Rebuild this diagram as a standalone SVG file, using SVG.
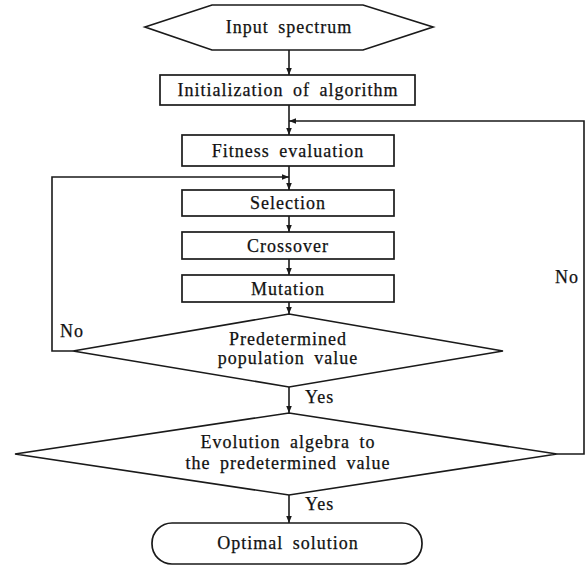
<svg xmlns="http://www.w3.org/2000/svg" width="587" height="569" viewBox="0 0 587 569" font-family="'Liberation Serif', serif">
<defs>
<style>
.s{fill:#fff;stroke:#1a1a1a;stroke-width:1.7}
.c{fill:none;stroke:#1a1a1a;stroke-width:1.6}
text{font-family:'Liberation Serif',serif;font-size:18px;fill:#111;stroke:#111;stroke-width:0.25;letter-spacing:1px;word-spacing:4px}
.m{text-anchor:middle}
</style>
<marker id="a" viewBox="0 0 10 10" refX="10" refY="5" markerWidth="7" markerHeight="7" markerUnits="userSpaceOnUse" orient="auto">
<path d="M0,1 L10,5 L0,9 Z" fill="#1a1a1a"/>
</marker>
</defs>
<rect width="587" height="569" fill="#fff"/>
<g id="connectors">
<line class="c" x1="289" y1="50" x2="289" y2="75" marker-end="url(#a)"/>
<line class="c" x1="289" y1="105" x2="289" y2="135" marker-end="url(#a)"/>
<line class="c" x1="289" y1="166" x2="289" y2="190" marker-end="url(#a)"/>
<line class="c" x1="289" y1="216" x2="289" y2="232" marker-end="url(#a)"/>
<line class="c" x1="289" y1="259" x2="289" y2="275" marker-end="url(#a)"/>
<line class="c" x1="289" y1="302" x2="289" y2="314" marker-end="url(#a)"/>
<line class="c" x1="289" y1="387" x2="289" y2="413" marker-end="url(#a)"/>
<line class="c" x1="289" y1="495" x2="289" y2="523" marker-end="url(#a)"/>
<polyline class="c" points="73,351 52,351 52,177 289,177" marker-end="url(#a)"/>
<polyline class="c" points="557,454 584,454 584,121 289,121" marker-end="url(#a)"/>
<text x="60" y="337" font-family="Liberation Serif">No</text>
<text x="555" y="283" font-family="Liberation Serif">No</text>
<text x="305" y="403" font-family="Liberation Serif">Yes</text>
<text x="305" y="510" font-family="Liberation Serif">Yes</text>
</g>
<g id="input" font-family="Liberation Serif">
<polygon class="s" points="145,27 212,5 363,5 433,27 363,50 212,50"/>
<text class="m" x="289" y="33">Input spectrum</text>
</g>
<g id="init" font-family="Liberation Serif">
<rect class="s" x="160" y="75" width="255" height="30"/>
<text class="m" x="288" y="96">Initialization of algorithm</text>
</g>
<g id="fitness" font-family="Liberation Serif">
<rect class="s" x="182" y="135" width="212" height="31"/>
<text class="m" x="288" y="157">Fitness evaluation</text>
</g>
<g id="selection" font-family="Liberation Serif">
<rect class="s" x="182" y="190" width="212" height="26"/>
<text class="m" x="288" y="209">Selection</text>
</g>
<g id="crossover" font-family="Liberation Serif">
<rect class="s" x="182" y="232" width="212" height="27"/>
<text class="m" x="288" y="252">Crossover</text>
</g>
<g id="mutation" font-family="Liberation Serif">
<rect class="s" x="182" y="275" width="212" height="27"/>
<text class="m" x="288" y="295">Mutation</text>
</g>
<g id="population" font-family="Liberation Serif">
<polygon class="s" points="289,314 503,351 289,387 73,351"/>
<text class="m" x="288" y="345">Predetermined</text>
<text class="m" x="288" y="364">population value</text>
</g>
<g id="evolution" font-family="Liberation Serif">
<polygon class="s" points="289,413 557,454 289,495 15,454"/>
<text class="m" x="288" y="448">Evolution algebra to</text>
<text class="m" x="288" y="469">the predetermined value</text>
</g>
<g id="optimal" font-family="Liberation Serif">
<rect class="s" x="152" y="523" width="270" height="41" rx="20" ry="20"/>
<text class="m" x="288" y="549">Optimal solution</text>
</g>
</svg>
